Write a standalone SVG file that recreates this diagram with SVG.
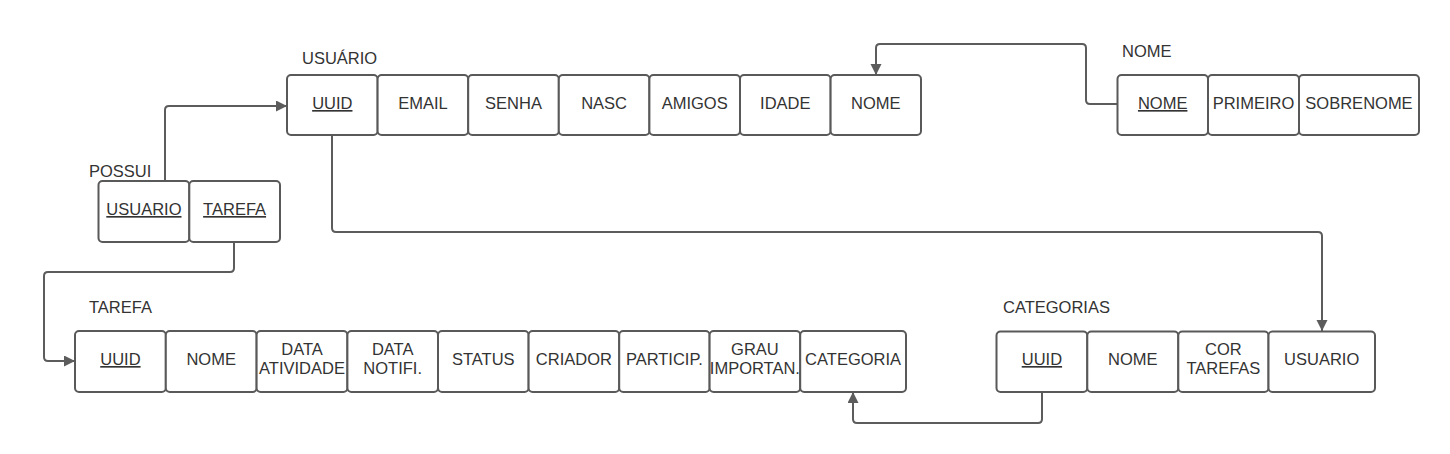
<svg xmlns="http://www.w3.org/2000/svg" width="1450" height="454" viewBox="0 0 1450 454">
<style>
.c{fill:#fff;stroke:#595959;stroke-width:2}
.t{font-family:"Liberation Sans",Arial,sans-serif;font-size:16.5px;fill:#333;text-anchor:middle}
.l{font-family:"Liberation Sans",Arial,sans-serif;font-size:16.5px;fill:#333}
.u{text-decoration:underline}
.e{fill:none;stroke:#5c5c5c;stroke-width:2}
</style>
<defs>
<marker id="ah" markerUnits="userSpaceOnUse" markerWidth="12" markerHeight="12" refX="11" refY="5.5" orient="auto">
<path d="M0,0 L11,5.5 L0,11 z" fill="#5c5c5c"/>
</marker>
</defs>
<rect width="1450" height="454" fill="#fff"/>
<g id="connectors">
<path class="e" d="M165,181 V110 Q165,106 169,106 H287" marker-end="url(#ah)"/>
<path class="e" d="M332,135 V228 Q332,232 336,232 H1318 Q1322,232 1322,236 V331" marker-end="url(#ah)"/>
<path class="e" d="M1117,104 H1090 Q1086,104 1086,100 V48 Q1086,44 1082,44 H880 Q876,44 876,48 V75" marker-end="url(#ah)"/>
<path class="e" d="M234,242 V268 Q234,272 230,272 H48 Q44,272 44,276 V357 Q44,361 48,361 H75" marker-end="url(#ah)"/>
<path class="e" d="M1042,392 V419 Q1042,423 1038,423 H857 Q853,423 853,419 V392" marker-end="url(#ah)"/>
</g>
<g id="usuario">
<text class="l" x="302" y="64">USUÁRIO</text>
<rect class="c" x="287" y="75" width="90.6" height="60" rx="4"/>
<rect class="c" x="377.6" y="75" width="90.6" height="60" rx="4"/>
<rect class="c" x="468.2" y="75" width="90.6" height="60" rx="4"/>
<rect class="c" x="558.8" y="75" width="90.6" height="60" rx="4"/>
<rect class="c" x="649.4" y="75" width="90.6" height="60" rx="4"/>
<rect class="c" x="740" y="75" width="90.6" height="60" rx="4"/>
<rect class="c" x="830.6" y="75" width="90.4" height="60" rx="4"/>
<text class="t u" x="332.3" y="109">UUID</text>
<text class="t" x="422.9" y="109">EMAIL</text>
<text class="t" x="513.5" y="109">SENHA</text>
<text class="t" x="604.1" y="109">NASC</text>
<text class="t" x="694.7" y="109">AMIGOS</text>
<text class="t" x="785.3" y="109">IDADE</text>
<text class="t" x="875.8" y="109">NOME</text>
</g>
<g id="nome">
<text class="l" x="1122" y="57">NOME</text>
<rect class="c" x="1117.5" y="75" width="90.5" height="60" rx="4"/>
<rect class="c" x="1208" y="75" width="91" height="60" rx="4"/>
<rect class="c" x="1299" y="75" width="120" height="60" rx="4"/>
<text class="t u" x="1162.7" y="109">NOME</text>
<text class="t" x="1253.5" y="109">PRIMEIRO</text>
<text class="t" x="1359" y="109">SOBRENOME</text>
</g>
<g id="possui">
<text class="l" x="89" y="177">POSSUI</text>
<rect class="c" x="98.5" y="181" width="90.8" height="61" rx="4"/>
<rect class="c" x="189.3" y="181" width="90.7" height="61" rx="4"/>
<text class="t u" x="143.9" y="215">USUARIO</text>
<text class="t u" x="234.6" y="215">TAREFA</text>
</g>
<g id="tarefa">
<text class="l" x="89" y="313">TAREFA</text>
<rect class="c" x="75" y="331" width="90.8" height="61" rx="4"/>
<rect class="c" x="165.8" y="331" width="90.8" height="61" rx="4"/>
<rect class="c" x="256.6" y="331" width="90.8" height="61" rx="4"/>
<rect class="c" x="347.4" y="331" width="90.6" height="61" rx="4"/>
<rect class="c" x="438" y="331" width="90.6" height="61" rx="4"/>
<rect class="c" x="528.6" y="331" width="90.6" height="61" rx="4"/>
<rect class="c" x="619.2" y="331" width="90.4" height="61" rx="4"/>
<rect class="c" x="709.6" y="331" width="90.6" height="61" rx="4"/>
<rect class="c" x="800.2" y="331" width="105.8" height="61" rx="4"/>
<text class="t u" x="120.4" y="365">UUID</text>
<text class="t" x="211.2" y="365">NOME</text>
<text class="t" x="302" y="355">DATA</text>
<text class="t" x="302" y="374">ATIVIDADE</text>
<text class="t" x="392.7" y="355">DATA</text>
<text class="t" x="392.7" y="374">NOTIFI.</text>
<text class="t" x="483.3" y="365">STATUS</text>
<text class="t" x="573.9" y="365">CRIADOR</text>
<text class="t" x="664.4" y="365">PARTICIP.</text>
<text class="t" x="754.9" y="355">GRAU</text>
<text class="t" x="754.9" y="374">IMPORTAN.</text>
<text class="t" x="853.1" y="365">CATEGORIA</text>
</g>
<g id="categorias">
<text class="l" x="1003" y="313">CATEGORIAS</text>
<rect class="c" x="996.5" y="331.5" width="90.8" height="60.5" rx="4"/>
<rect class="c" x="1087.3" y="331.5" width="91" height="60.5" rx="4"/>
<rect class="c" x="1178.3" y="331.5" width="90.2" height="60.5" rx="4"/>
<rect class="c" x="1268.5" y="331.5" width="106.5" height="60.5" rx="4"/>
<text class="t u" x="1041.9" y="365">UUID</text>
<text class="t" x="1132.8" y="365">NOME</text>
<text class="t" x="1223.4" y="355">COR</text>
<text class="t" x="1223.4" y="374">TAREFAS</text>
<text class="t" x="1321.7" y="365">USUARIO</text>
</g>
</svg>
